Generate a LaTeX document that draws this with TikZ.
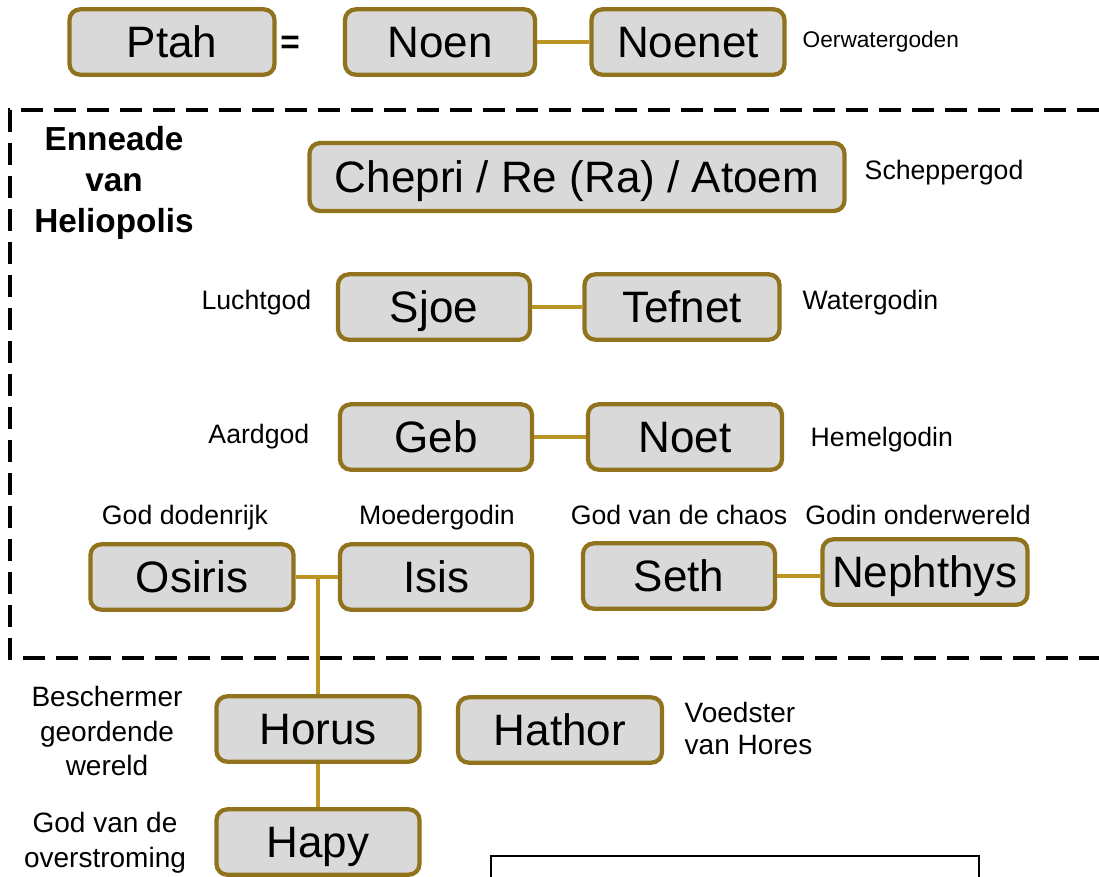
\documentclass[tikz,border=0pt]{standalone}
\usepackage{fontspec}
\setmainfont{Liberation Sans}
\definecolor{godrand}{RGB}{145,115,30}
\definecolor{godlijn}{RGB}{188,148,35}
\definecolor{godvul}{RGB}{217,217,217}
\begin{document}
\begin{tikzpicture}[x=0.75pt,y=-0.75pt,
    godbox/.style={draw=godrand,line width=3.2pt,fill=godvul,rounded corners=8pt,
        inner sep=0pt,minimum height=49pt,minimum width={#1*0.75pt},
        text height=23.6pt,text depth=0pt,
        font=\fontsize{33}{38}\selectfont},
    godbox/.default=193,
    lbl/.style={font=\fontsize{20}{26}\selectfont,align=center},
    band/.style={draw=godlijn,line width=2.4pt}]
    \useasboundingbox (0,0) rectangle (1099,876);
    % oerwatergoden
    \node[godbox=205] (ptah) at (172,42) {Ptah};
    \node[font=\fontsize{25}{30}\selectfont\bfseries] (is) at (290,45) {=};
    \node[godbox=190] (noen) at (440,42) {Noen};
    \node[godbox=193] (noenet) at (688,42) {Noenet};
    \node[lbl,font=\fontsize{17}{22}\selectfont,anchor=west] (oer) at (798,42) {Oerwatergoden};
    \draw[band] (noen) -- (noenet);
    % enneade
    \draw[line width=3.7pt,dash pattern=on 16.5pt off 8.25pt] (1099,110) -| (10,658) -- (1099,658);
    \node[align=center,font=\fontsize{25}{31}\selectfont\bfseries] (ennead) at (114,183) {Enneade\\van\\Heliopolis};
    \node[godbox=535,minimum height=51pt] (chepri) at (577,177) {Chepri / Re (Ra) / Atoem};
    \node[lbl,anchor=west] (schep) at (860,173) {Scheppergod};
    \node[godbox=192] (sjoe) at (434,307) {Sjoe};
    \node[godbox=195] (tefnet) at (682,307) {Tefnet};
    \node[lbl,anchor=east] (lucht) at (316,303) {Luchtgod};
    \node[lbl,anchor=west] (water) at (798,303) {Watergodin};
    \draw[band] (sjoe) -- (tefnet);
    \node[godbox=192] (geb) at (436,437) {Geb};
    \node[godbox=194] (noet) at (685,437) {Noet};
    \node[lbl,anchor=east] (aard) at (314,437) {Aardgod};
    \node[lbl,anchor=west] (hemel) at (806,440) {Hemelgodin};
    \draw[band] (geb) -- (noet);
    \node[godbox=203] (osiris) at (192,577) {Osiris};
    \node[godbox=192] (isis) at (436,577) {Isis};
    \node[godbox=192] (seth) at (679,576) {Seth};
    \node[godbox=205] (nephthys) at (925,572) {Nephthys};
    \node[lbl] (doden) at (185,518) {God dodenrijk};
    \node[lbl] (moeder) at (437,518) {Moedergodin};
    \node[lbl] (chaos) at (679,515) {God van de chaos};
    \node[lbl] (onder) at (918,515) {Godin onderwereld};
    \draw[band] (osiris) -- (isis);
    \draw[band] (seth.east) -- (seth.east -| nephthys.west);
    % kinderen
    \node[godbox=203] (horus) at (318,729) {Horus};
    \node[godbox=204] (hathor) at (560,730) {Hathor};
    \node[godbox=203] (hapy) at (318,842) {Hapy};
    \node[lbl,font=\fontsize{21}{26}\selectfont] (bescherm) at (107,731) {Beschermer\\geordende\\wereld};
    \node[lbl,font=\fontsize{21}{24}\selectfont,align=left,anchor=west] (voed) at (680,728) {Voedster\\van Hores};
    \node[lbl,font=\fontsize{21}{26}\selectfont] (overstr) at (105,843) {God van de\\overstroming};
    \draw[band] (horus.north) -- (horus.north |- osiris.east);
    \draw[band] (horus) -- (hapy);
    \draw[line width=1.5pt] (491,900) |- (979,856) -- (979,900);
\end{tikzpicture}
\end{document}
